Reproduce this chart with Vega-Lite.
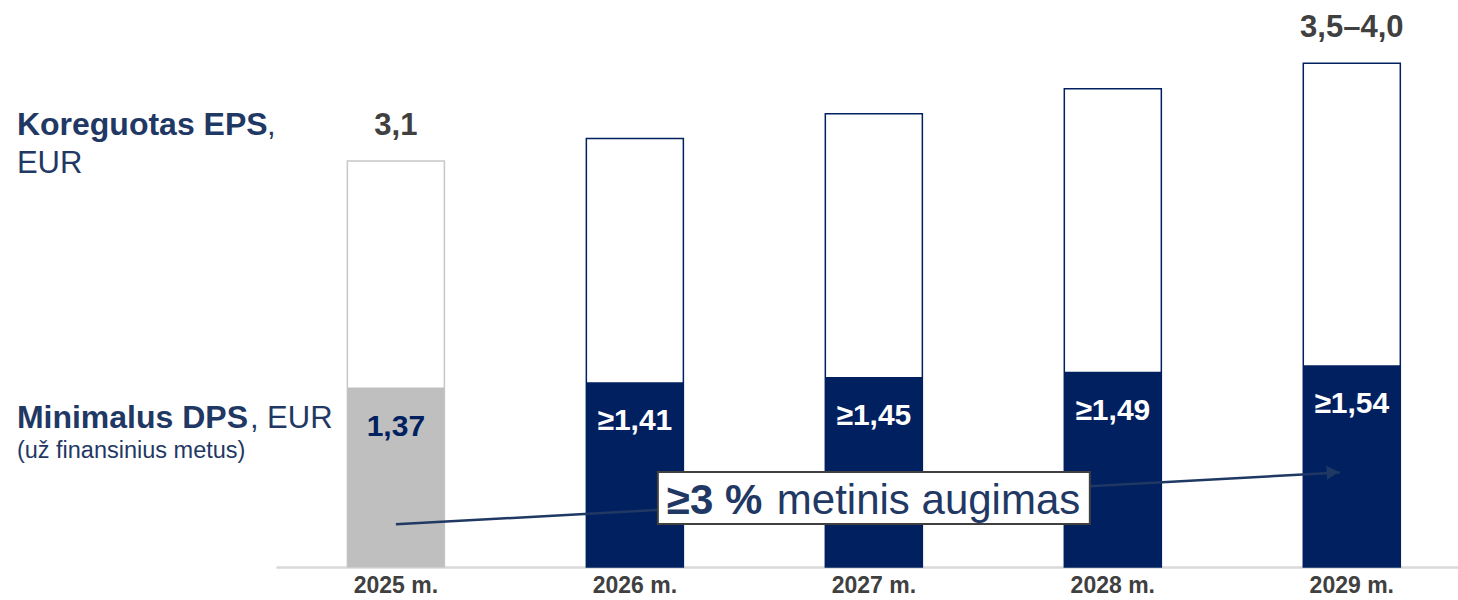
{
  "$schema": "https://vega.github.io/schema/vega-lite/v6.json",
  "width": 1182,
  "height": 567,
  "autosize": {"type": "none"},
  "padding": {"left": 276, "top": 0, "right": 0, "bottom": 33},
  "background": "white",
  "config": {
    "view": {"stroke": null},
    "font": "Liberation Sans",
    "text": {"font": "Liberation Sans"}
  },
  "data": {
    "values": [
      {"year": "2025 m.", "type": "faktas", "eps": 3.10, "dps": 1.37, "epsLabel": "3,1", "dpsLabel": "1,37"},
      {"year": "2026 m.", "type": "tikslas", "eps": 3.27, "dps": 1.41, "epsLabel": "", "dpsLabel": "≥1,41"},
      {"year": "2027 m.", "type": "tikslas", "eps": 3.46, "dps": 1.45, "epsLabel": "", "dpsLabel": "≥1,45"},
      {"year": "2028 m.", "type": "tikslas", "eps": 3.65, "dps": 1.49, "epsLabel": "", "dpsLabel": "≥1,49"},
      {"year": "2029 m.", "type": "tikslas", "eps": 3.845, "dps": 1.54, "epsLabel": "3,5–4,0", "dpsLabel": "≥1,54"}
    ]
  },
  "encoding": {
    "x": {
      "field": "year",
      "type": "nominal",
      "sort": null,
      "scale": {"paddingInner": 0.594, "paddingOuter": 0.27, "align": 0.553, "round": false},
      "axis": {
        "title": null,
        "domain": true,
        "domainColor": "#d9d9d9",
        "domainWidth": 2.5,
        "ticks": false,
        "labelAngle": 0,
        "labelFont": "Liberation Sans",
        "labelFontWeight": "bold",
        "labelFontSize": 23,
        "labelColor": "#404040",
        "labelPadding": 7
      }
    }
  },
  "layer": [
    {
      "mark": {"type": "bar", "fill": "white", "strokeWidth": 1.5},
      "encoding": {
        "y": {"field": "eps", "type": "quantitative", "scale": {"domain": [0, 4.328], "nice": false, "zero": true}, "axis": null},
        "stroke": {"field": "type", "type": "nominal", "scale": {"domain": ["faktas", "tikslas"], "range": ["#c8c8c8", "#002060"]}, "legend": null}
      }
    },
    {
      "mark": {"type": "bar"},
      "encoding": {
        "y": {"field": "dps", "type": "quantitative"},
        "fill": {"field": "type", "type": "nominal", "scale": {"domain": ["faktas", "tikslas"], "range": ["#bfbfbf", "#002060"]}, "legend": null}
      }
    },
    {
      "mark": {"type": "text", "fontWeight": "bold", "fontSize": 31, "color": "#404040", "baseline": "alphabetic", "dy": -26},
      "encoding": {
        "y": {"field": "eps", "type": "quantitative"},
        "text": {"field": "epsLabel"}
      }
    },
    {
      "mark": {"type": "text", "fontWeight": "bold", "fontSize": 30, "baseline": "alphabetic", "dy": 48},
      "encoding": {
        "y": {"field": "dps", "type": "quantitative"},
        "text": {"field": "dpsLabel"},
        "color": {"field": "type", "type": "nominal", "scale": {"domain": ["faktas", "tikslas"], "range": ["#002060", "#ffffff"]}, "legend": null}
      }
    },
    {
      "data": {"values": [{}]},
      "mark": {"type": "rule", "color": "#1f3864", "strokeWidth": 2.5, "x2Offset": -12},
      "encoding": {
        "x": {"datum": "2025 m."},
        "x2": {"datum": "2029 m."},
        "y": {"datum": 0.326},
        "y2": {"datum": 0.722}
      }
    },
    {
      "data": {"values": [{}]},
      "mark": {"type": "point", "shape": "triangle-right", "filled": true, "size": 200, "color": "#1f3864", "opacity": 1, "angle": -3, "xOffset": -19},
      "encoding": {
        "x": {"datum": "2029 m."},
        "y": {"datum": 0.722}
      }
    },
    {
      "data": {"values": [{}]},
      "mark": {"type": "bar", "width": 432, "fill": "white", "stroke": "#404040", "strokeWidth": 2},
      "encoding": {
        "x": {"datum": "2027 m."},
        "y": {"datum": 0.725},
        "y2": {"datum": 0.328}
      }
    },
    {
      "data": {"values": [{}]},
      "mark": {"type": "text", "text": "≥3 %", "fontWeight": "bold", "fontSize": 42, "color": "#1f3864", "align": "left", "baseline": "alphabetic", "dx": -207},
      "encoding": {
        "x": {"datum": "2027 m."},
        "y": {"datum": 0.405}
      }
    },
    {
      "data": {"values": [{}]},
      "mark": {"type": "text", "text": "metinis augimas", "fontSize": 42, "color": "#1f3864", "align": "left", "baseline": "alphabetic", "dx": -97},
      "encoding": {
        "x": {"datum": "2027 m."},
        "y": {"datum": 0.405}
      }
    },
    {
      "data": {"values": [{}]},
      "mark": {"type": "text", "text": "Koreguotas EPS", "fontWeight": "bold", "fontSize": 32, "color": "#1f3864", "align": "left", "baseline": "alphabetic", "dx": -379},
      "encoding": {"x": {"datum": "2025 m."}, "y": {"datum": 3.298}}
    },
    {
      "data": {"values": [{}]},
      "mark": {"type": "text", "text": ",", "fontSize": 31, "color": "#1f3864", "align": "left", "baseline": "alphabetic", "dx": -129},
      "encoding": {"x": {"datum": "2025 m."}, "y": {"datum": 3.298}}
    },
    {
      "data": {"values": [{}]},
      "mark": {"type": "text", "text": "EUR", "fontSize": 31, "color": "#1f3864", "align": "left", "baseline": "alphabetic", "dx": -379},
      "encoding": {"x": {"datum": "2025 m."}, "y": {"datum": 3.01}}
    },
    {
      "data": {"values": [{}]},
      "mark": {"type": "text", "text": "Minimalus DPS", "fontWeight": "bold", "fontSize": 32, "color": "#1f3864", "align": "left", "baseline": "alphabetic", "dx": -379},
      "encoding": {"x": {"datum": "2025 m."}, "y": {"datum": 1.061}}
    },
    {
      "data": {"values": [{}]},
      "mark": {"type": "text", "text": ", EUR", "fontSize": 31, "color": "#1f3864", "align": "left", "baseline": "alphabetic", "dx": -146},
      "encoding": {"x": {"datum": "2025 m."}, "y": {"datum": 1.061}}
    },
    {
      "data": {"values": [{}]},
      "mark": {"type": "text", "text": "(už finansinius metus)", "fontSize": 23.5, "color": "#1f3864", "align": "left", "baseline": "alphabetic", "dx": -379},
      "encoding": {"x": {"datum": "2025 m."}, "y": {"datum": 0.832}}
    }
  ]
}
